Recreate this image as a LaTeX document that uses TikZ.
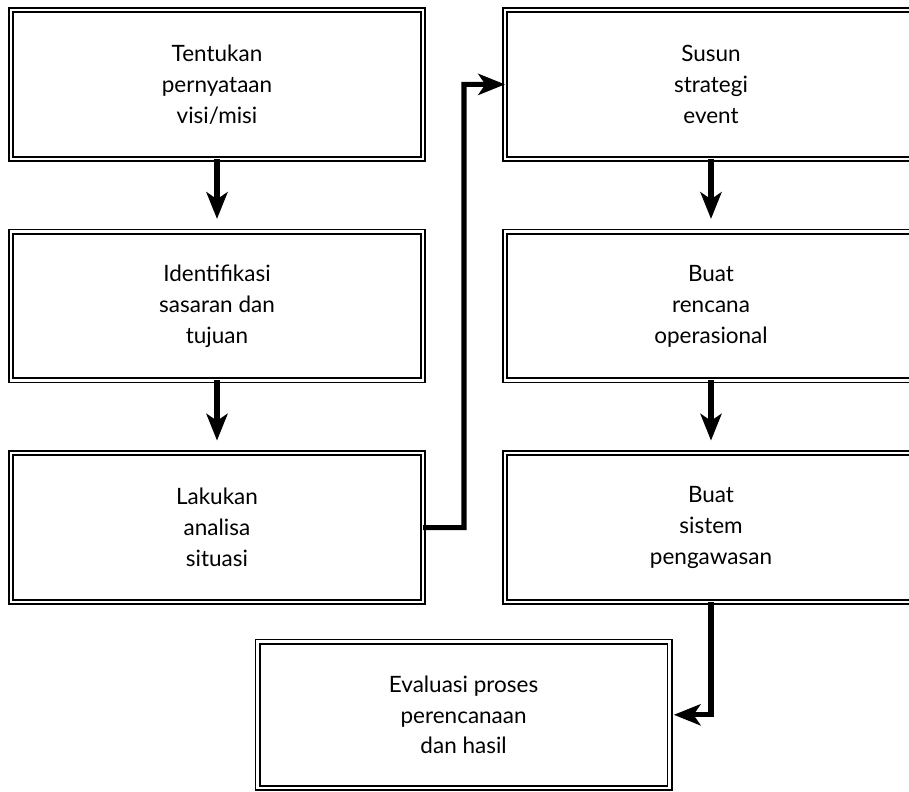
\documentclass[tikz,border=0pt]{standalone}
\usepackage{fontspec}
\setmainfont{Lato}
\usetikzlibrary{positioning,calc,arrows.meta}

\tikzset{
  stepbox/.style={draw,double,line width=1.35pt,double distance=1.6pt,
    minimum width=10.3cm,minimum height=3.72cm,outer sep=0pt,
    align=center,font=\fontsize{16}{22}\selectfont},
  flow/.style={line width=3.6pt,-{Stealth[length=19pt,width=15pt,inset=5pt]}}
}

\begin{document}
\begin{tikzpicture}[node distance=1.82cm and 2.05cm]
\useasboundingbox (0,0) rectangle (22.725,-19.775);
% left column
\node[stepbox] (visi) at (5.425,-2.11) {Tentukan\\pernyataan\\visi/misi};
\node[stepbox,below=of visi] (sasaran) {Identifikasi\\sasaran dan\\tujuan};
\node[stepbox,below=of sasaran] (analisa) {Lakukan\\analisa\\situasi};
% right column
\node[stepbox,right=of visi] (strategi) {Susun\\strategi\\event};
\node[stepbox,right=of sasaran] (rencana) {Buat\\rencana\\operasional};
\node[stepbox,right=of analisa] (awas) {Buat\\sistem\\pengawasan};
% bottom
\node[stepbox,minimum height=3.66cm] (evaluasi) at (11.59,-17.87) {Evaluasi proses\\perencanaan\\dan hasil};

\draw[flow,shorten >=9pt] (visi) -- (sasaran);
\draw[flow,shorten >=9pt] (sasaran) -- (analisa);
\draw[flow,shorten >=9pt] (strategi) -- (rencana);
\draw[flow,shorten >=9pt] (rencana) -- (awas);
\coordinate (belok) at ($(analisa.east)!.5!(awas.west)$);
\draw[flow] (analisa.east) -- (belok) |- (strategi.west);
\draw[flow,shorten >=3pt] (awas.south) |- (evaluasi.east);
\end{tikzpicture}
\end{document}
